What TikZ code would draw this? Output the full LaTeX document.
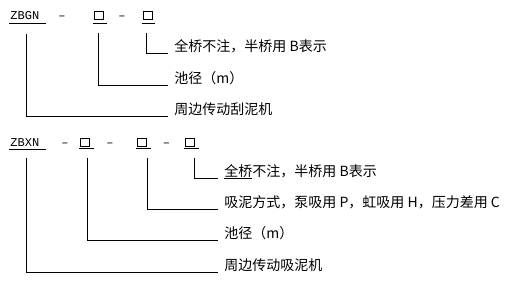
\documentclass[tikz,border=0pt]{standalone}
\usepackage{fontspec}
\usepackage{tikz}
\usetikzlibrary{positioning}
\newfontfamily\cjk{Noto Sans CJK SC}
\newfontfamily\codefont{Liberation Mono}

\begin{document}
\begin{tikzpicture}[x=1pt, y=-1pt, line width=0.9pt,
    code/.style={font=\codefont\fontsize{12}{14}\selectfont, inner sep=0pt, anchor=base west},
    dsh/.style={font=\codefont\fontsize{12}{14}\selectfont, inner sep=0pt, anchor=base},
    sq/.style={draw, line width=0.9pt, minimum width=9pt, minimum height=8pt, inner sep=0pt, anchor=south},
    desc/.style={font=\cjk\fontsize{14}{16}\selectfont, anchor=south west, inner xsep=6pt, inner ysep=1.5pt, text depth=0pt}]
    \useasboundingbox (0,0) rectangle (510,283);
    % ZBGN
    \node[code] (zbgn) at (10,20) {ZBGN};
    \node[dsh] (d11) at (62,20) {–};
    \node[dsh] (d12) at (122,20) {–};
    \node[sq] (b11) at (99,20) {};
    \node[sq] (b12) at (147.5,20) {};
    \foreach \n/\e in {zbgn/6, b11/3, b12/3}
      \draw ([xshift=-1pt,yshift=-3pt]\n.south west) -- ([xshift=\e pt,yshift=-3pt]\n.south east);
    \node[desc] (t11) at (168,53) {全桥不注，半桥用 B表示};
    \node[desc] (t12) at (168,85) {池径（m）};
    \node[desc] (t13) at (168,116) {周边传动刮泥机};
    \foreach \a/\b/\s in {zbgn/t13/2, b11/t12/-1, b12/t11/-1}
      \draw ([xshift=\s pt,yshift=-13pt]\a.south) |- (\b.south west);
    % ZBXN
    \node[code] (zbxn) at (10,146.5) {ZBXN};
    \node[dsh] (d21) at (65,146.5) {–};
    \node[dsh] (d22) at (110,146.5) {–};
    \node[dsh] (d23) at (166.5,146.5) {–};
    \node[sq] (b21) at (85,146.5) {};
    \node[sq] (b22) at (142,146.5) {};
    \node[sq] (b23) at (190,146.5) {};
    \foreach \n/\e in {zbxn/6, b21/4, b22/4, b23/4}
      \draw ([xshift=-1pt,yshift=-2pt]\n.south west) -- ([xshift=\e pt,yshift=-2pt]\n.south east);
    \node[desc] (t21) at (218,178) {\underline{全桥}不注，半桥用 B表示};
    \node[desc] (t22) at (218,209) {吸泥方式，泵吸用 P，虹吸用 H，压力差用 C};
    \node[desc] (t23) at (218,240) {池径（m）};
    \node[desc] (t24) at (218,272) {周边传动吸泥机};
    \foreach \a/\b/\s in {zbxn/t24/2, b21/t23/2, b22/t22/5, b23/t21/4}
      \draw ([xshift=\s pt,yshift=-11pt]\a.south) |- (\b.south west);
\end{tikzpicture}
\end{document}
